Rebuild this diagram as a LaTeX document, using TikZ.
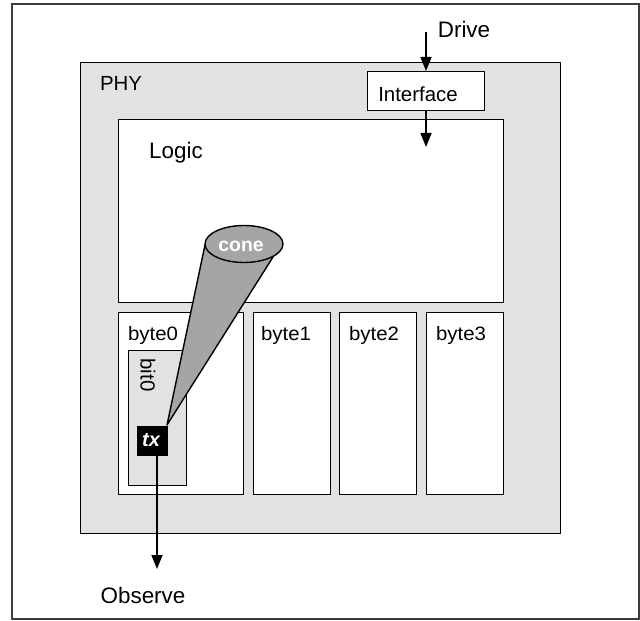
\documentclass[tikz,border=0pt]{standalone}
\usepackage{fontspec}
\setmainfont{Liberation Sans}
\usetikzlibrary{arrows.meta,shapes.geometric}
\definecolor{phyfill}{RGB}{226,226,226}
\definecolor{conefill}{RGB}{165,165,165}
\definecolor{framegray}{RGB}{60,60,60}
\tikzset{
  box/.style={draw=black, line width=1.4bp, anchor=north west, inner sep=0pt},
  lbl/.style={font=\fontsize{20.5}{24}\selectfont, inner sep=0pt},
  biglbl/.style={font=\fontsize{22.5}{26}\selectfont, inner sep=0pt},
  arr/.style={line width=1.5bp, -{Triangle[width=11bp,length=14bp]}},
}
\begin{document}
\begin{tikzpicture}[x=1bp,y=-1bp]
\useasboundingbox (0,0) rectangle (640,621);
% outer frame
\node[box, draw=framegray, line width=2bp, minimum width=627bp, minimum height=615bp] (frame) at (11,3) {};
% PHY
\node[box, fill=phyfill, minimum width=480bp, minimum height=471bp] (phy) at (80,62) {};
\node[lbl] (phylbl) at (121,83) {PHY};
% Interface
\node[box, fill=white, minimum width=117bp, minimum height=39bp] (iface) at (367,71) {};
\node[lbl] (ifacelbl) at (418,94) {Interface};
% Logic
\node[box, fill=white, minimum width=385bp, minimum height=183bp] (logic) at (118,119) {};
\node[biglbl] (logiclbl) at (176,153) {Logic};
% bytes
\node[box, fill=white, minimum width=125bp, minimum height=182bp] (byte0) at (118,312) {};
\node[box, fill=white, minimum width=77bp, minimum height=182bp] (byte1) at (253,312) {};
\node[box, fill=white, minimum width=77bp, minimum height=182bp] (byte2) at (339,312) {};
\node[box, fill=white, minimum width=77bp, minimum height=182bp] (byte3) at (426,312) {};
\node[inner sep=0pt, font=\fontsize{19.5}{22}\selectfont, xscale=1.05] (byte0lbl) at (153,335) {byte0};
\node[inner sep=0pt, font=\fontsize{19.5}{22}\selectfont, xscale=1.05] (byte1lbl) at (286,335) {byte1};
\node[inner sep=0pt, font=\fontsize{19.5}{22}\selectfont, xscale=1.05] (byte2lbl) at (374,335) {byte2};
\node[inner sep=0pt, font=\fontsize{19.5}{22}\selectfont, xscale=1.05] (byte3lbl) at (461,335) {byte3};
% bit0
\node[box, fill=phyfill, minimum width=58bp, minimum height=135bp] (bit0) at (128,350) {};
\node[lbl, rotate=-90] (bit0lbl) at (148,375) {bit0};
% cone
\coordinate (apex) at (167,425);
\coordinate (cl) at (205,245);
\coordinate (cr) at (273,257);
\filldraw[fill=conefill, draw=black, line width=1.4bp, line join=round] (apex) -- (cl) -- (cr) -- cycle;
\node[draw=black, line width=1.4bp, fill=conefill, ellipse, minimum width=78bp, minimum height=37bp, inner sep=0pt] (cone) at (244,244) {};
\node[inner sep=0pt, text=white, font=\fontsize{19.5}{22}\selectfont\bfseries] (conelbl) at (241,246) {cone};
% tx
\node[box, fill=black, minimum width=30bp, minimum height=29bp] (tx) at (137,426) {};
\node[inner sep=0pt, text=white, font=\fontsize{20}{22}\selectfont\bfseries\itshape] (txlbl) at (151,440) {tx};
% arrows
\coordinate (drivestart) at (426,32);
\coordinate (logicend) at (426,147);
\coordinate (obsend) at (157,569);
\node[biglbl] (drivelbl) at (464,29) {Drive};
\node[biglbl] (obslbl) at (143,595) {Observe};
\draw[arr] (drivestart) -- (drivestart |- iface.north);
\draw[arr] (logicend |- iface.south) -- (logicend);
\draw[arr] (obsend |- tx.south) -- (obsend);
\end{tikzpicture}
\end{document}
